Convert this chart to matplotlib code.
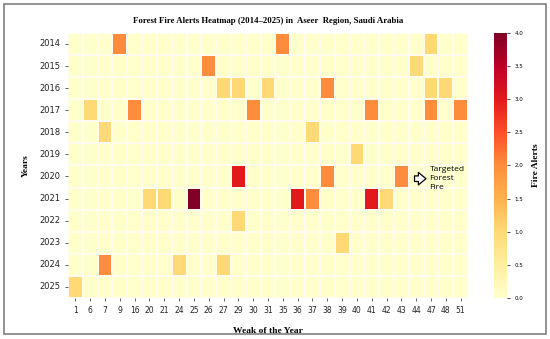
import numpy as np
import pandas as pd
import matplotlib
matplotlib.use("Agg")
import matplotlib.pyplot as plt
import seaborn as sns

years = list(range(2014, 2026))
weeks = [1, 6, 7, 9, 16, 20, 21, 24, 25, 26, 27, 29, 30, 31, 35, 36,
         37, 38, 39, 40, 41, 42, 43, 44, 47, 48, 51]

# alerts per (year, week); everything else is zero
alerts_2014 = {9: 2, 35: 2, 47: 1}
alerts_2015 = {26: 2, 44: 1}
alerts_2016 = {27: 1, 29: 1, 31: 1, 38: 2, 47: 1, 48: 1}
alerts_2017 = {6: 1, 16: 2, 30: 2, 41: 2, 47: 2, 51: 2}
alerts_2018 = {7: 1, 37: 1}
alerts_2019 = {40: 1}
alerts_2020 = {29: 3, 38: 2, 43: 2}
alerts_2021 = {20: 1, 21: 1, 25: 4, 36: 3, 37: 2, 41: 3, 42: 1}
alerts_2022 = {29: 1}
alerts_2023 = {39: 1}
alerts_2024 = {7: 2, 24: 1, 27: 1}
alerts_2025 = {1: 1}

rows = [alerts_2014, alerts_2015, alerts_2016, alerts_2017, alerts_2018,
        alerts_2019, alerts_2020, alerts_2021, alerts_2022, alerts_2023,
        alerts_2024, alerts_2025]
df = pd.DataFrame([[r.get(w, 0) for w in weeks] for r in rows],
                  index=years, columns=weeks)

fig = plt.figure(figsize=(5.5, 3.39), dpi=100)
ax = fig.add_axes([0.1236, 0.121, 0.7274, 0.782])
cax = fig.add_axes([0.898, 0.121, 0.024, 0.782])

sns.heatmap(df, ax=ax, cbar_ax=cax, cmap="YlOrRd", vmin=0, vmax=4,
            linewidths=0.2, linecolor="#fffcee")

serif = "Liberation Serif"
ax.set_title("Forest Fire Alerts Heatmap (2014\u20132025) in  Aseer  Region, Saudi Arabia",
             fontsize=6.3, fontweight="bold", family=serif, pad=7)
ax.set_xlabel("Weak of the Year", fontsize=6.8, fontweight="bold", family=serif, labelpad=9)
ax.set_ylabel("Years", fontsize=6.8, fontweight="bold", family=serif, labelpad=7)
ax.tick_params(axis="x", labelsize=5.5, length=2, width=0.5, rotation=0, colors="#222222")
ax.tick_params(axis="y", labelsize=6, length=2, width=0.5, rotation=0, colors="#222222")

cax.tick_params(labelsize=4, length=2, width=0.5)
cax.set_ylabel("Fire Alerts", fontsize=6.8, fontweight="bold", family=serif, labelpad=6)

# annotation for the targeted fire
ax.annotate("", xy=(24.35, 6.6), xytext=(23.2, 6.6),
            arrowprops=dict(arrowstyle="simple,head_length=0.55,head_width=0.9,tail_width=0.4",
                            fc="white", ec="black", lw=0.9))
ax.text(24.4, 6.6, "Targeted\nForest\nFire", fontsize=6, va="center", ha="left",
        family="Open Sans", linespacing=1.45)

# gray frame around the figure
fig.patches.append(plt.Rectangle((0.008, 0.015), 0.984, 0.972, transform=fig.transFigure,
                                 fill=False, ec="gray", lw=1.2))

fig.savefig("out.png", dpi=100)
